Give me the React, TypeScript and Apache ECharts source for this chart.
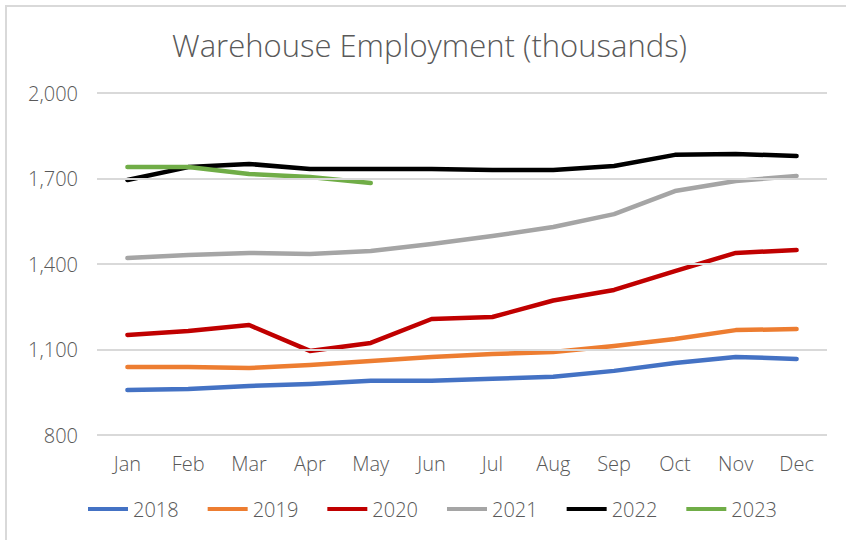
import React, { useEffect, useRef } from "react";
import * as echarts from "echarts";

const months = ["Jan", "Feb", "Mar", "Apr", "May", "Jun", "Jul", "Aug", "Sep", "Oct", "Nov", "Dec"];
const s2018 = [958, 961, 972, 979, 990, 990, 997, 1004, 1025, 1053, 1074, 1067];
const s2019 = [1039, 1039, 1035, 1046, 1060, 1074, 1084, 1091, 1112, 1137, 1168, 1172];
const s2020 = [1151, 1165, 1186, 1095, 1123, 1207, 1214, 1272, 1309, 1375, 1439, 1449];
const s2021 = [1421, 1432, 1439, 1435, 1446, 1470, 1498, 1530, 1575, 1656, 1691, 1709];
const s2022 = [1695, 1740, 1751, 1733, 1733, 1733, 1730, 1730, 1744, 1783, 1786, 1779];
const s2023 = [1740, 1740, 1716, 1705, 1684];
const yTicks = [800, 1100, 1400, 1700, 2000];

const seriesDefs = [
  { name: "2018", data: s2018, color: "#4472C4" },
  { name: "2019", data: s2019, color: "#ED7D31" },
  { name: "2020", data: s2020, color: "#C00000" },
  { name: "2021", data: s2021, color: "#A5A5A5" },
  { name: "2022", data: s2022, color: "#000000" },
  { name: "2023", data: s2023, color: "#70AD47" },
];

const FONT = "Open Sans";
const TXT = "#595959";

export default function App() {
  const ref = useRef<HTMLDivElement>(null);
  useEffect(() => {
    const chart = echarts.init(ref.current!, null, { renderer: "svg" });
    chart.setOption({
      animation: false,
      backgroundColor: "#ffffff",
      textStyle: { fontFamily: FONT },
      title: {
        text: "Warehouse Employment (thousands)",
        left: 167,
        top: 24,
        textStyle: { fontFamily: FONT, fontSize: 31, fontWeight: 300, color: TXT },
      },
      graphic: [
        {
          type: "rect",
          shape: { x: 6, y: 6, width: 900, height: 600 },
          style: { fill: "none", stroke: "#d9d9d9", lineWidth: 2 },
          silent: true,
        },
      ],
      grid: { left: 97, right: 19, top: 93, bottom: 105 },
      legend: {
        left: 83,
        top: 494,
        icon: "rect",
        itemWidth: 40,
        itemHeight: 4,
        itemGap: 29,
        textStyle: { fontFamily: FONT, fontSize: 20, fontWeight: 300, color: TXT },
        data: seriesDefs.map((s) => s.name),
      },
      xAxis: {
        type: "category",
        data: months,
        boundaryGap: true,
        axisLine: { show: false },
        axisTick: { show: false },
        axisLabel: { fontFamily: FONT, fontSize: 20, fontWeight: 300, color: TXT, margin: 18 },
      },
      yAxis: {
        type: "value",
        min: 800,
        max: 2000,
        interval: 300,
        axisLine: { show: false },
        axisTick: { show: false },
        axisLabel: {
          fontFamily: FONT,
          fontSize: 20,
          fontWeight: 300,
          color: TXT,
          margin: 19,
          customValues: yTicks,
          formatter: (v: number) => v.toLocaleString("en-US"),
        },
        splitLine: { show: false },
      },
      series: [
        ...seriesDefs.map((s) => ({
          name: s.name,
          type: "line",
          data: s.data,
          symbol: "none",
          smooth: false,
          color: s.color,
          lineStyle: { width: 4.5, color: s.color, cap: "round", join: "round" },
          z: 3,
        })),
        {
          name: "grid",
          type: "line",
          data: [],
          silent: true,
          z: 1,
          markLine: {
            symbol: "none",
            silent: true,
            label: { show: false },
            lineStyle: { color: "#d9d9d9", width: 2, type: "solid" },
            data: yTicks.map((t) => ({ yAxis: t })),
          },
        },
      ],
    });
    return () => chart.dispose();
  }, []);
  return (
    <div
      ref={ref}
      style={{ position: "absolute", left: 0, top: 0, width: 846, height: 540 }}
    />
  );
}
